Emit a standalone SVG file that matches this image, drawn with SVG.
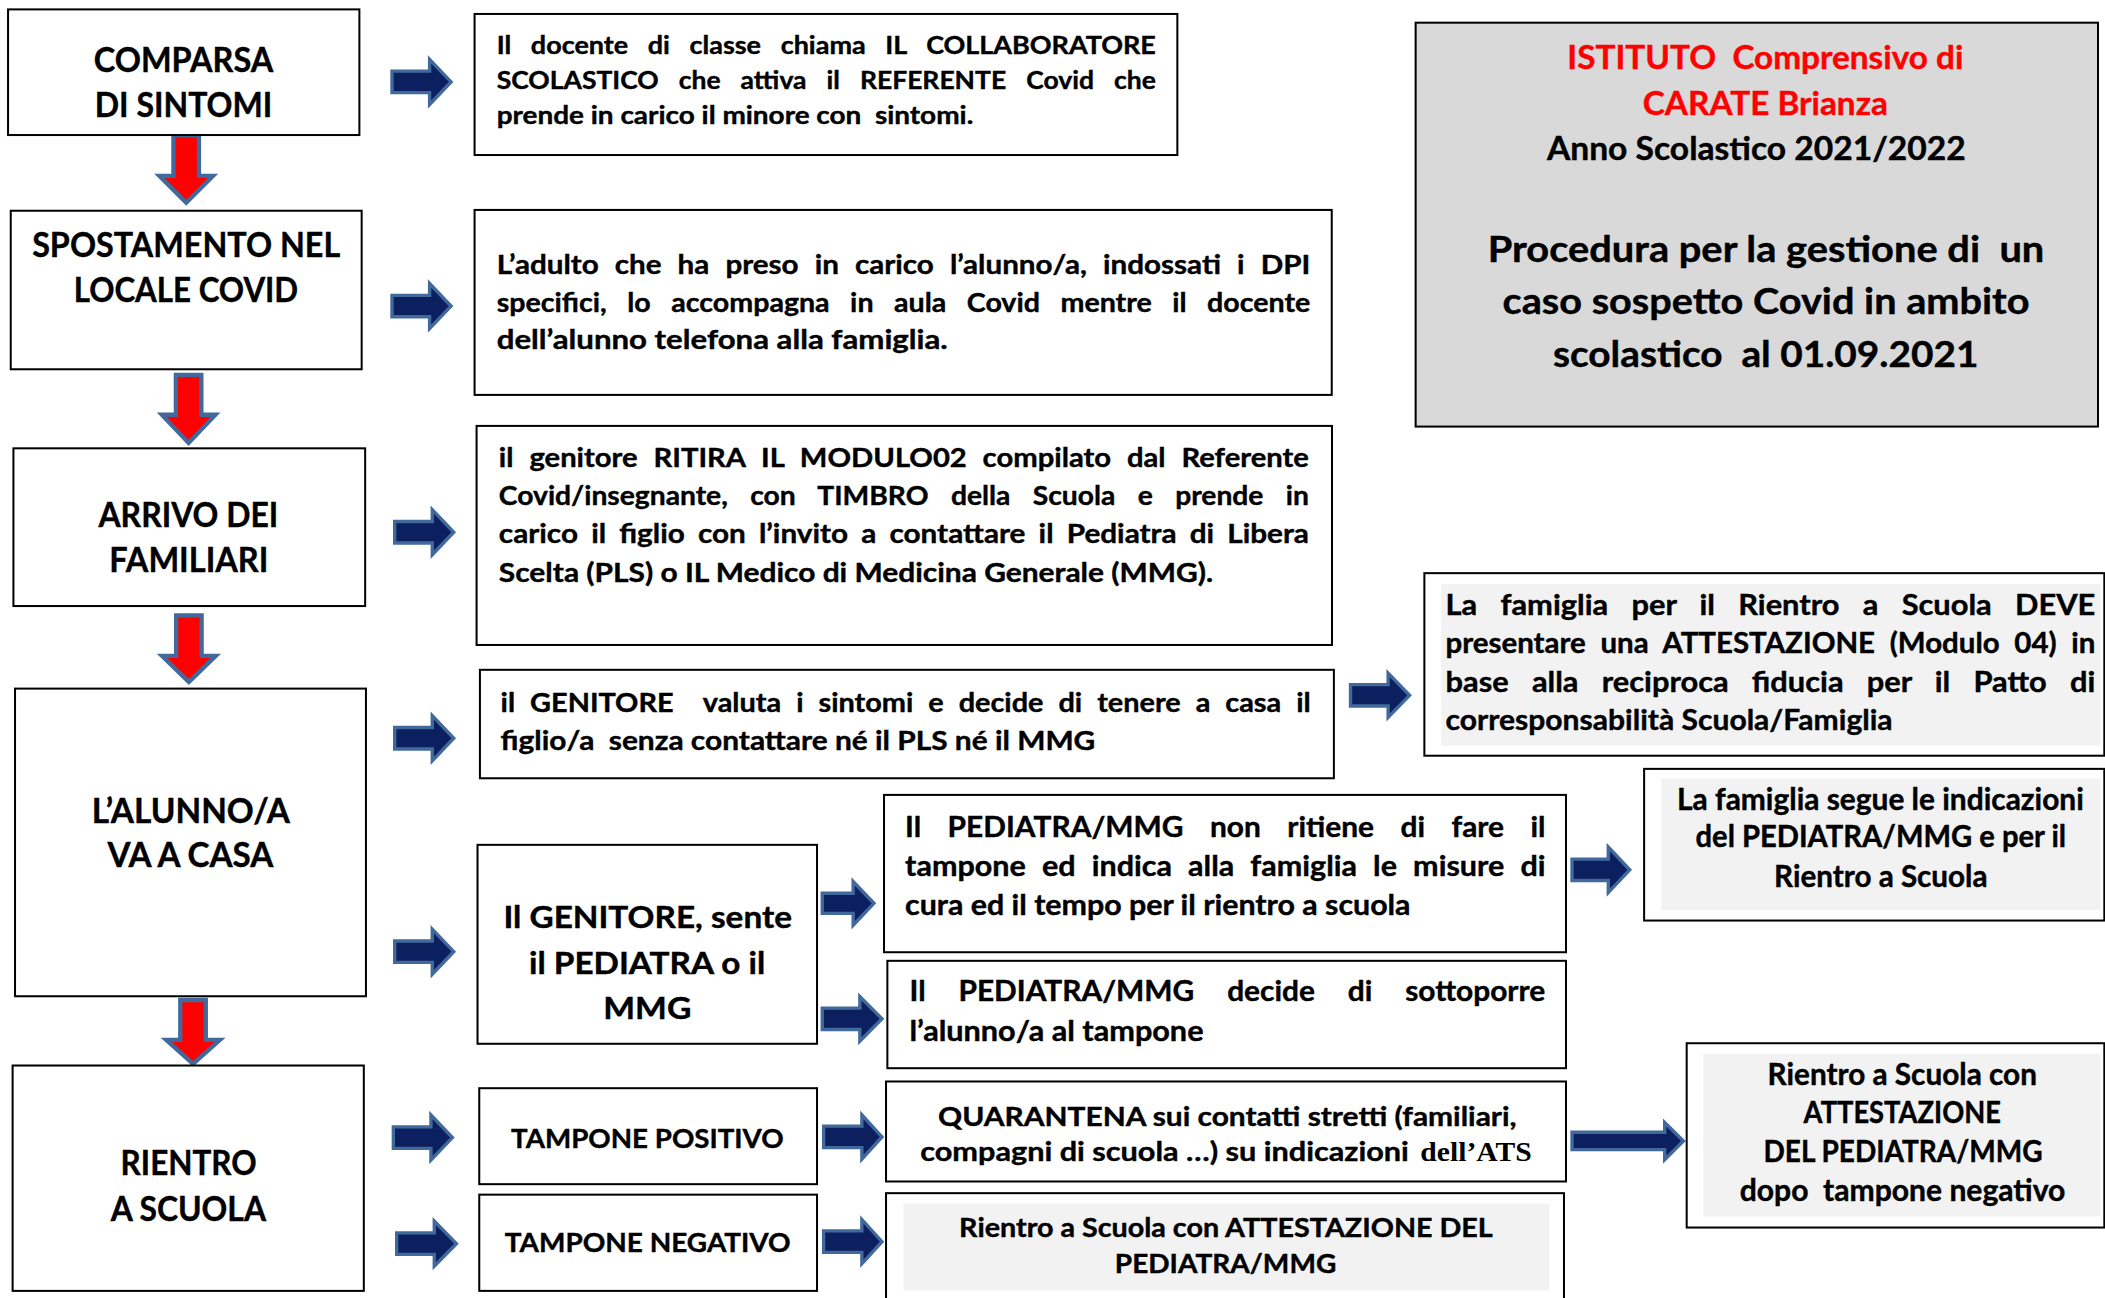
<svg xmlns="http://www.w3.org/2000/svg" width="2105" height="1298" viewBox="0 0 2105 1298">
<style>
.bx{fill:#fff;stroke:#000;stroke-width:1.5}
.gf{fill:#f2f2f2}
.t{font-family:Lato,"Open Sans","Liberation Sans",sans-serif;font-weight:700;fill:#000;stroke:#000;stroke-width:0.3}
.c{text-anchor:middle}
.f25{font-size:25.5px}
.f185{font-size:18.5px}
.f20{font-size:20px}
.f21{font-size:21px}
.f215{font-size:21.5px}
.f22{font-size:22px}
.f23{font-size:23px}
.red{fill:#ff0000;stroke:#ff0000}
.ra{fill:#0c2060;stroke:#41699b;stroke-width:2.5;stroke-linejoin:miter}
.da{fill:#ff0000;stroke:#41699b;stroke-width:3.2;stroke-linejoin:miter}
.sr{font-family:"Liberation Serif","Times New Roman",serif;font-weight:700;font-size:20.5px}
</style>
<rect width="2105" height="1298" fill="#fff"/>
<g transform="scale(1.34247,1.3423)">

<g id="connectors">
<path class="da" d="M129.2,100.6H148.2V131H158.7L138.7,151L118.7,131H129.2Z"/>
<path class="da" d="M131,279.3H150V309H160.5L140.5,330L120.5,309H131Z"/>
<path class="da" d="M131.2,458.5H150.2V488.6H160.7L140.7,508L120.7,488.6H131.2Z"/>
<path class="da" d="M134.3,745H153.3V774.7H163.8L143.8,792.6L123.8,774.7H134.3Z"/>

<path class="ra" d="M292,53H320V44.2L336,61L320,77.8V69H292Z"/>
<path class="ra" d="M292,220H320V211.2L336,228L320,244.8V236H292Z"/>
<path class="ra" d="M294,388.5H322V379.7L338,396.5L322,413.3V404.5H294Z"/>
<path class="ra" d="M294,542H322V533.2L338,550L322,566.8V558H294Z"/>
<path class="ra" d="M294,701H322V692.2L338,709L322,725.8V717H294Z"/>
<path class="ra" d="M293,839.5H321V830.7L337,847.5L321,864.3V855.5H293Z"/>
<path class="ra" d="M295.5,918.5H323.5V909.7L340,926.5L323.5,943.3V934.5H295.5Z"/>
<path class="ra" d="M612.5,665.5H635.5V656.7L651,673L635.5,689.3V680.5H612.5Z"/>
<path class="ra" d="M612.5,751H640.5V742.4L657,759L640.5,775.6V767H612.5Z"/>
<path class="ra" d="M613.5,839H642V830.5L657,847L642,863.5V855H613.5Z"/>
<path class="ra" d="M613.5,917H642V908.5L657,925L642,941.5V933H613.5Z"/>
<path class="ra" d="M1006,510H1034V501.5L1050,518L1034,534.5V526H1006Z"/>
<path class="ra" d="M1171,640H1198V631L1214,648L1198,665V656H1171Z"/>
<path class="ra" d="M1171,843.5H1240V836.3L1254,850L1240,864V856.5H1171Z"/>
</g>

<g id="n-comparsa">
<rect class="bx" x="6" y="7" width="261.7" height="93.6"/>
<text class="t c f25" x="136.7" y="53.4" textLength="133.7" lengthAdjust="spacingAndGlyphs">COMPARSA</text>
<text class="t c f25" x="136.7" y="87.4" textLength="132.3" lengthAdjust="spacingAndGlyphs">DI SINTOMI</text>
</g>
<g id="n-spostamento">
<rect class="bx" x="8" y="157" width="261.4" height="118.1"/>
<text class="t c f25" x="138.7" y="191.2" textLength="229.5" lengthAdjust="spacingAndGlyphs">SPOSTAMENTO NEL</text>
<text class="t c f25" x="138.5" y="225.2" textLength="167.2" lengthAdjust="spacingAndGlyphs">LOCALE COVID</text>
</g>
<g id="n-arrivo">
<rect class="bx" x="10" y="334" width="262" height="117.5"/>
<text class="t c f25" x="140.3" y="392.6" textLength="134" lengthAdjust="spacingAndGlyphs">ARRIVO DEI</text>
<text class="t c f25" x="140.7" y="426.3" textLength="118.5" lengthAdjust="spacingAndGlyphs">FAMILIARI</text>
</g>
<g id="n-alunno-casa">
<rect class="bx" x="11.2" y="513" width="261.4" height="229.2"/>
<text class="t c f25" x="142.2" y="613" textLength="147.7" lengthAdjust="spacingAndGlyphs">L’ALUNNO/A</text>
<text class="t c f25" x="141.8" y="646.1" textLength="123.6" lengthAdjust="spacingAndGlyphs">VA A CASA</text>
</g>
<g id="n-rientro">
<rect class="bx" x="9.4" y="793.8" width="261.6" height="167.9"/>
<text class="t c f25" x="140.5" y="875" textLength="101.3" lengthAdjust="spacingAndGlyphs">RIENTRO</text>
<text class="t c f25" x="140.3" y="909.3" textLength="115.7" lengthAdjust="spacingAndGlyphs">A SCUOLA</text>
</g>

<g id="n-docente">
<rect class="bx" x="353.5" y="10.4" width="523.5" height="105.1"/>
<text class="t f185" x="370" y="40.2" textLength="491" lengthAdjust="spacingAndGlyphs" word-spacing="9">Il docente di classe chiama IL COLLABORATORE</text>
<text class="t f185" x="370" y="66.5" textLength="491" lengthAdjust="spacingAndGlyphs" word-spacing="9.5">SCOLASTICO che attiva il REFERENTE Covid che</text>
<text class="t f185" x="370" y="92.5" textLength="355" lengthAdjust="spacingAndGlyphs" xml:space="preserve">prende in carico il minore con  sintomi.</text>
</g>
<g id="n-adulto">
<rect class="bx" x="353.5" y="156.4" width="638.5" height="137.8"/>
<text class="t f20" x="370" y="204" textLength="606" lengthAdjust="spacingAndGlyphs" word-spacing="6">L’adulto che ha preso in carico l’alunno/a, indossati i DPI</text>
<text class="t f20" x="370" y="232.3" textLength="606" lengthAdjust="spacingAndGlyphs" word-spacing="9.5">specifici, lo accompagna in aula Covid mentre il docente</text>
<text class="t f20" x="370" y="260" textLength="336" lengthAdjust="spacingAndGlyphs">dell’alunno telefona alla famiglia.</text>
</g>
<g id="n-ritira">
<rect class="bx" x="355" y="317.3" width="637.2" height="163.2"/>
<text class="t f20" x="371.6" y="347.6" textLength="603.4" lengthAdjust="spacingAndGlyphs" word-spacing="6">il genitore RITIRA IL MODULO02 compilato dal Referente</text>
<text class="t f20" x="371.6" y="376.2" textLength="603.4" lengthAdjust="spacingAndGlyphs" word-spacing="11">Covid/insegnante, con TIMBRO della Scuola e prende in</text>
<text class="t f20" x="371.6" y="404.7" textLength="603.4" lengthAdjust="spacingAndGlyphs" word-spacing="4">carico il figlio con l’invito a contattare il Pediatra di Libera</text>
<text class="t f20" x="371.6" y="433.3" textLength="532" lengthAdjust="spacingAndGlyphs">Scelta (PLS) o IL Medico di Medicina Generale (MMG).</text>
</g>
<g id="n-valuta">
<rect class="bx" x="357.5" y="499" width="636.1" height="80.8"/>
<text class="t f20" x="372.9" y="530.1" textLength="603.4" lengthAdjust="spacingAndGlyphs" word-spacing="5.5" xml:space="preserve">il GENITORE  valuta i sintomi e decide di tenere a casa il</text>
<text class="t f20" x="372.9" y="558.7" textLength="443" lengthAdjust="spacingAndGlyphs" xml:space="preserve">figlio/a  senza contattare né il PLS né il MMG</text>
</g>
<g id="n-sente">
<rect class="bx" x="355.7" y="629.4" width="252.9" height="148.2"/>
<text class="t c f23" x="482.5" y="691.5" textLength="215" lengthAdjust="spacingAndGlyphs">Il GENITORE, sente</text>
<text class="t c f23" x="482" y="725.5" textLength="176" lengthAdjust="spacingAndGlyphs">il PEDIATRA o il</text>
<text class="t c f23" x="482.2" y="759" textLength="65.6" lengthAdjust="spacingAndGlyphs">MMG</text>
</g>
<g id="n-non-ritiene">
<rect class="bx" x="658.5" y="592.2" width="508" height="117.2"/>
<text class="t f21" x="674.2" y="623.2" textLength="477" lengthAdjust="spacingAndGlyphs" word-spacing="13.5">Il PEDIATRA/MMG non ritiene di fare il</text>
<text class="t f21" x="674.2" y="652.5" textLength="477" lengthAdjust="spacingAndGlyphs" word-spacing="6">tampone ed indica alla famiglia le misure di</text>
<text class="t f21" x="674.2" y="681.6" textLength="376.5" lengthAdjust="spacingAndGlyphs">cura ed il tempo per il rientro a scuola</text>
</g>
<g id="n-sottoporre">
<rect class="bx" x="661" y="715.8" width="505.5" height="80"/>
<text class="t f21" x="677.5" y="746.1" textLength="473.5" lengthAdjust="spacingAndGlyphs" word-spacing="18">Il PEDIATRA/MMG decide di sottoporre</text>
<text class="t f21" x="677.5" y="775.2" textLength="219" lengthAdjust="spacingAndGlyphs">l’alunno/a al tampone</text>
</g>
<g id="n-positivo">
<rect class="bx" x="357" y="810.7" width="251.6" height="71.5"/>
<text class="t c f20" x="482.2" y="855.4" textLength="203" lengthAdjust="spacingAndGlyphs">TAMPONE POSITIVO</text>
</g>
<g id="n-negativo">
<rect class="bx" x="357" y="890" width="251.6" height="71.7"/>
<text class="t c f20" x="482.5" y="933" textLength="213" lengthAdjust="spacingAndGlyphs">TAMPONE NEGATIVO</text>
</g>
<g id="n-quarantena">
<rect class="bx" x="660" y="805.7" width="506.5" height="74.5"/>
<text class="t c f20" x="914.2" y="838.5" textLength="431" lengthAdjust="spacingAndGlyphs">QUARANTENA sui contatti stretti (familiari,</text>
<text class="t f20" x="685.5" y="865.3" textLength="364" lengthAdjust="spacingAndGlyphs">compagni di scuola …) su indicazioni</text>
<text class="sr" x="1058" y="865.3" textLength="83" lengthAdjust="spacingAndGlyphs">dell’ATS</text>
</g>
<g id="n-rientro-negativo">
<rect class="bx" x="660" y="888.9" width="505" height="85"/>
<rect class="gf" x="673" y="896.8" width="481" height="64.6"/>
<text class="t c" style="font-size:19.5px" x="913.2" y="921.2" textLength="397.5" lengthAdjust="spacingAndGlyphs">Rientro a Scuola con ATTESTAZIONE DEL</text>
<text class="t c" style="font-size:19.5px" x="912.9" y="948.5" textLength="165" lengthAdjust="spacingAndGlyphs">PEDIATRA/MMG</text>
</g>

<g id="n-titolo">
<rect x="1054.5" y="16.9" width="508.3" height="300.9" fill="#d9d9d9" stroke="#000" stroke-width="1.5"/>
<text class="t c red" style="font-size:24.5px" x="1315" y="51.6" textLength="295" lengthAdjust="spacingAndGlyphs" xml:space="preserve">ISTITUTO  Comprensivo di</text>
<text class="t c red" style="font-size:24.5px" x="1315" y="85.7" textLength="182.5" lengthAdjust="spacingAndGlyphs">CARATE Brianza</text>
<text class="t c" style="font-size:23.5px" x="1308.3" y="119.2" textLength="312" lengthAdjust="spacingAndGlyphs">Anno Scolastico 2021/2022</text>
<text class="t c" style="font-size:26.5px" x="1315.5" y="195.4" textLength="414.6" lengthAdjust="spacingAndGlyphs" xml:space="preserve">Procedura per la gestione di  un</text>
<text class="t c" style="font-size:26.5px" x="1315.5" y="234.1" textLength="392.5" lengthAdjust="spacingAndGlyphs">caso sospetto Covid in ambito</text>
<text class="t c" style="font-size:26.5px" x="1315.3" y="273.1" textLength="317" lengthAdjust="spacingAndGlyphs" xml:space="preserve">scolastico  al 01.09.2021</text>
</g>
<g id="n-attestazione">
<rect class="bx" x="1061" y="427" width="506.5" height="136"/>
<rect class="gf" x="1073.6" y="435" width="490.9" height="120.5"/>
<text class="t f215" x="1076.8" y="458" textLength="484" lengthAdjust="spacingAndGlyphs" word-spacing="11">La famiglia per il Rientro a Scuola DEVE</text>
<text class="t f215" x="1076.8" y="486.7" textLength="484" lengthAdjust="spacingAndGlyphs" word-spacing="5.5">presentare una ATTESTAZIONE (Modulo 04) in</text>
<text class="t f215" x="1076.8" y="515.7" textLength="484" lengthAdjust="spacingAndGlyphs" word-spacing="11">base alla reciproca fiducia per il Patto di</text>
<text class="t f215" x="1076.8" y="543.8" textLength="333" lengthAdjust="spacingAndGlyphs">corresponsabilità Scuola/Famiglia</text>
</g>
<g id="n-segue">
<rect class="bx" x="1224.7" y="572.8" width="342.8" height="113"/>
<rect class="gf" x="1237.5" y="580" width="327" height="98"/>
<text class="t c f22" x="1400.7" y="603.4" textLength="303" lengthAdjust="spacingAndGlyphs">La famiglia segue le indicazioni</text>
<text class="t c f22" x="1401" y="631.2" textLength="276" lengthAdjust="spacingAndGlyphs">del PEDIATRA/MMG e per il</text>
<text class="t c f22" x="1401" y="660.5" textLength="159" lengthAdjust="spacingAndGlyphs">Rientro a Scuola</text>
</g>
<g id="n-rientro-attestazione">
<rect class="bx" x="1256.4" y="777.2" width="311.1" height="137.3"/>
<rect class="gf" x="1268.8" y="785" width="295.7" height="121.3"/>
<text class="t c f22" x="1417" y="808.2" textLength="200.7" lengthAdjust="spacingAndGlyphs">Rientro a Scuola con</text>
<text class="t c f22" x="1417" y="836.7" textLength="147" lengthAdjust="spacingAndGlyphs">ATTESTAZIONE</text>
<text class="t c f22" x="1417.6" y="865.8" textLength="208" lengthAdjust="spacingAndGlyphs">DEL PEDIATRA/MMG</text>
<text class="t c f22" x="1417.2" y="895.1" textLength="242.6" lengthAdjust="spacingAndGlyphs" xml:space="preserve">dopo  tampone negativo</text>
</g>

</g>
</svg>
